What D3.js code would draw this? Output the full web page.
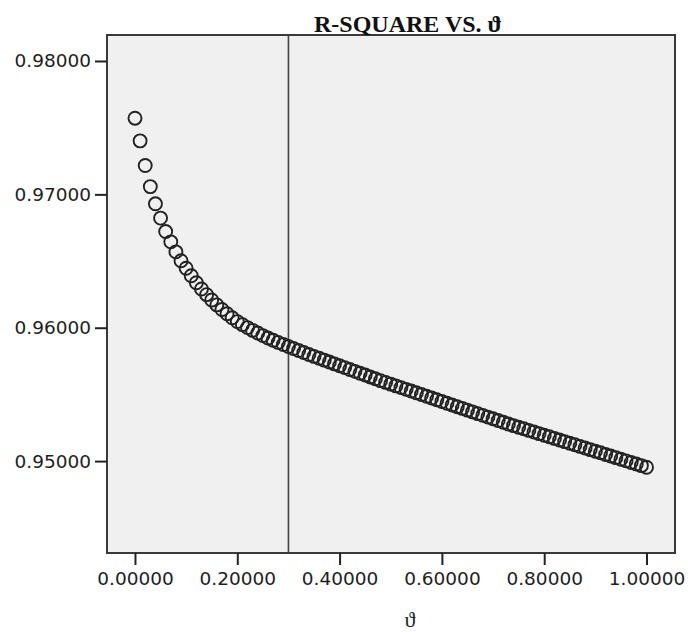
<!DOCTYPE html>
<html>
<head>
<meta charset="utf-8">
<script src="https://cdn.jsdelivr.net/npm/d3@7"></script>
<style>
  html, body { margin: 0; padding: 0; background: #fff; }
  svg { display: block; }
  .tick text { font-family: "DejaVu Sans", Verdana, sans-serif; font-size: 18.5px; fill: #1e1e1e; }
  .title { font-family: "Liberation Serif", "Times New Roman", serif; font-weight: bold; font-size: 24px; fill: #111; }
  .axis-label { font-family: "Liberation Serif", "Times New Roman", serif; font-size: 22px; fill: #222; }
</style>
</head>
<body>
<div id="chart"></div>
<script>
(function (d3) {
  'use strict';

  // theta from 0 to 1 in steps of 0.01
  const theta = d3.range(0, 101).map(function (i) { return i / 100; });

  // R-square, one value per theta
  const rSquare = [
    0.97571, 0.97401, 0.97216, 0.97058, 0.96929, 0.96822, 0.96721, 0.96644, 0.96569, 0.96502,
    0.96446, 0.96390, 0.96337, 0.96290, 0.96248, 0.96208, 0.96171, 0.96137, 0.96105, 0.96075,
    0.96046, 0.96023, 0.96001, 0.95980, 0.95960, 0.95941, 0.95923, 0.95906, 0.95890, 0.95874,
    0.95859, 0.95844, 0.95829, 0.95814, 0.95799, 0.95785, 0.95771, 0.95757, 0.95743, 0.95729,
    0.95715, 0.95701, 0.95687, 0.95673, 0.95659, 0.95645, 0.95631, 0.95617, 0.95603, 0.95590,
    0.95577, 0.95564, 0.95551, 0.95538, 0.95525, 0.95512, 0.95499, 0.95486, 0.95473, 0.95460,
    0.95447, 0.95434, 0.95421, 0.95408, 0.95395, 0.95382, 0.95369, 0.95356, 0.95343, 0.95330,
    0.95317, 0.95304, 0.95291, 0.95278, 0.95266, 0.95254, 0.95242, 0.95230, 0.95218, 0.95206,
    0.95194, 0.95182, 0.95170, 0.95158, 0.95146, 0.95134, 0.95122, 0.95110, 0.95098, 0.95086,
    0.95074, 0.95062, 0.95050, 0.95038, 0.95026, 0.95014, 0.95002, 0.94990, 0.94978, 0.94966,
    0.94954
  ];

  const xTicks = [0, 0.2, 0.4, 0.6, 0.8, 1.0];
  const yTicks = [0.95, 0.96, 0.97, 0.98];
  const refLine = [0.3];
  const titleText = "R-SQUARE VS. \u03D1";
  const xLabel = "\u03D1";

  const width = 688, height = 632;
  const margin = { top: 35, right: 13, bottom: 79, left: 107 };
  const w = width - margin.left - margin.right;
  const h = height - margin.top - margin.bottom;

  const data = theta.map(function (t, i) { return { x: t, y: rSquare[i] }; });

  const svg = d3.select("#chart").append("svg")
      .attr("width", width)
      .attr("height", height);

  const g = svg.append("g")
      .attr("transform", "translate(" + margin.left + "," + margin.top + ")");

  const x = d3.scaleLinear()
      .domain([-0.0547, 1.0557])
      .range([0, w]);
  const y = d3.scaleLinear()
      .domain([0.943109, 0.981948])
      .range([h, 0]);

  g.append("rect")
      .attr("width", w)
      .attr("height", h)
      .attr("fill", "#f0f0f0");

  g.selectAll("line.ref")
      .data(refLine)
      .enter()
      .append("line")
      .attr("class", "ref")
      .attr("x1", function (d) { return x(d); })
      .attr("x2", function (d) { return x(d); })
      .attr("y1", 0)
      .attr("y2", h)
      .attr("stroke", "#444")
      .attr("stroke-width", 1.6);

  g.selectAll("circle")
      .data(data)
      .enter()
      .append("circle")
      .attr("cx", function (d) { return x(d.x); })
      .attr("cy", function (d) { return y(d.y); })
      .attr("r", 6.5)
      .attr("fill", "none")
      .attr("stroke", "#222")
      .attr("stroke-width", 1.9);

  g.append("rect")
      .attr("width", w)
      .attr("height", h)
      .attr("fill", "none")
      .attr("stroke", "#3a3a3a")
      .attr("stroke-width", 2);

  const fmt = d3.format(".5f");

  const xAxis = g.append("g")
      .attr("transform", "translate(0," + h + ")")
      .call(d3.axisBottom(x).tickValues(xTicks).tickFormat(fmt).tickSize(12).tickPadding(7));
  const yAxis = g.append("g")
      .call(d3.axisLeft(y).tickValues(yTicks).tickFormat(fmt).tickSize(12).tickPadding(4));

  [xAxis, yAxis].forEach(function (a) {
      a.select(".domain").remove();
      a.selectAll(".tick line").attr("stroke", "#222").attr("stroke-width", 2);
  });

  svg.append("text")
      .attr("class", "title")
      .attr("x", 408)
      .attr("y", 32)
      .attr("text-anchor", "middle")
      .text(titleText);

  svg.append("text")
      .attr("class", "axis-label")
      .attr("x", 410)
      .attr("y", 627)
      .attr("text-anchor", "middle")
      .text(xLabel);

}(d3));
</script>
</body>
</html>
